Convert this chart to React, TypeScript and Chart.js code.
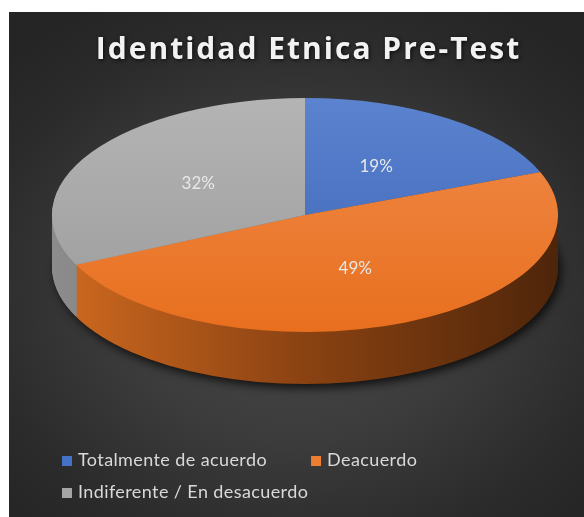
import React, { useEffect, useRef } from 'react';
import { Chart, registerables } from 'chart.js';

Chart.register(...registerables);

const TITLE = 'Identidad Etnica Pre-Test';
const categories = ['Totalmente de acuerdo', 'Deacuerdo', 'Indiferente / En desacuerdo'];
const values = [19, 49, 32];
const valueLabels = ['19%', '49%', '32%'];

const baseColors = ['#4472c4', '#ed7d31', '#a5a5a5'];
const topColors = ['#5b83cf', '#f08c4c', '#b4b4b4'];
const bottomColors = ['#3a63b6', '#e86f1e', '#9b9b9b'];
const sideLeft = ['#2f5597', '#d06a20', '#8c8c8c'];
const sideMid = ['#284a85', '#8a4212', '#6e6e6e'];
const sideRight = ['#1f3864', '#4e250a', '#555555'];

// projected ellipse (canvas px) for the 3-D look
const PIE = { cx: 296, cy: 203, rx: 253, ry: 117, depth: 52 };
const LEGEND = { left: 53, top: 448, rowGap: 32, itemGap: 44, maxRight: 560, box: 10, textGap: 6 };

const titleFx = {
  id: 'titleFx',
  beforeDraw(chart: any) {
    const ctx = chart.ctx;
    ctx.shadowColor = 'rgba(0,0,0,0.75)';
    ctx.shadowBlur = 4;
    ctx.shadowOffsetX = 1;
    ctx.shadowOffsetY = 1;
    (ctx as any).letterSpacing = '2px';
  },
};

const pie3d = {
  id: 'pie3d',
  beforeDatasetsDraw(chart: any) {
    const ctx: CanvasRenderingContext2D = chart.ctx;
    ctx.shadowColor = 'transparent';
    ctx.shadowBlur = 0;
    ctx.shadowOffsetX = 0;
    ctx.shadowOffsetY = 0;
    (ctx as any).letterSpacing = '0px';
    const meta = chart.getDatasetMeta(0);
    const arcs = meta.data;
    if (!arcs.length) return false;
    const { x: cx, y: cy, outerRadius: R } = arcs[0].getProps(['x', 'y', 'outerRadius'], true);
    const sx = PIE.rx / R;
    const sy = PIE.ry / R;
    const apply = (dy: number) => {
      ctx.translate(PIE.cx, PIE.cy + dy);
      ctx.scale(sx, sy);
      ctx.translate(-cx, -cy);
    };

    // shadow under the pie
    ctx.save();
    ctx.shadowColor = 'rgba(0,0,0,0.75)';
    ctx.shadowBlur = 10;
    ctx.shadowOffsetX = 3;
    ctx.shadowOffsetY = 4;
    apply(PIE.depth);
    ctx.beginPath();
    ctx.arc(cx, cy, R, 0, Math.PI * 2);
    ctx.fillStyle = '#3a1b06';
    ctx.fill();
    ctx.restore();

    // side walls
    for (let dy = PIE.depth; dy >= 1; dy--) {
      arcs.forEach((arc: any, i: number) => {
        const p = arc.getProps(['startAngle', 'endAngle'], true);
        ctx.save();
        apply(dy);
        const g = ctx.createLinearGradient(cx - R, 0, cx + R, 0);
        g.addColorStop(0, sideLeft[i]);
        g.addColorStop(0.5, sideMid[i]);
        g.addColorStop(1, sideRight[i]);
        ctx.beginPath();
        ctx.moveTo(cx, cy);
        ctx.arc(cx, cy, R, p.startAngle, p.endAngle);
        ctx.closePath();
        ctx.fillStyle = g;
        ctx.fill();
        ctx.restore();
      });
    }

    // top faces, drawn by the arc elements
    ctx.save();
    apply(0);
    arcs.forEach((arc: any) => arc.draw(ctx));
    ctx.restore();

    // value labels
    ctx.save();
    ctx.font = '17px Lato';
    ctx.fillStyle = '#e8e8e8';
    ctx.textAlign = 'center';
    ctx.textBaseline = 'middle';
    arcs.forEach((arc: any, i: number) => {
      const tp = arc.tooltipPosition(true);
      const px = PIE.cx + (tp.x - cx) * sx;
      const py = PIE.cy + (tp.y - cy) * sy;
      ctx.fillText(valueLabels[i], px, py);
    });
    ctx.restore();
    return false;
  },
};

const customLegend = {
  id: 'customLegend',
  afterDraw(chart: any) {
    const ctx: CanvasRenderingContext2D = chart.ctx;
    ctx.save();
    ctx.shadowColor = 'transparent';
    (ctx as any).letterSpacing = '0.4px';
    ctx.font = '18px Lato';
    ctx.textBaseline = 'middle';
    ctx.textAlign = 'left';
    let x = LEGEND.left;
    let y = LEGEND.top;
    const labels: string[] = chart.data.labels;
    labels.forEach((text, i) => {
      const w = LEGEND.box + LEGEND.textGap + ctx.measureText(text).width;
      if (i > 0 && x + w > LEGEND.maxRight) {
        x = LEGEND.left;
        y += LEGEND.rowGap;
      }
      ctx.fillStyle = baseColors[i];
      ctx.fillRect(x, y - 4, LEGEND.box, LEGEND.box);
      ctx.fillStyle = '#d9d9d9';
      ctx.fillText(text, x + LEGEND.box + LEGEND.textGap, y);
      x += w + LEGEND.itemGap;
    });
    ctx.restore();
  },
};

export default function App() {
  const ref = useRef<HTMLCanvasElement | null>(null);

  useEffect(() => {
    if (!ref.current) return;
    const chart = new Chart(ref.current, {
      type: 'pie',
      data: {
        labels: categories,
        datasets: [
          {
            data: values,
            borderWidth: 0,
            backgroundColor: (c: any) => {
              const i = c.dataIndex ?? 0;
              const area = c.chart.chartArea;
              if (!area) return baseColors[i];
              const R = Math.min(area.width, area.height) / 2;
              const mid = (area.top + area.bottom) / 2;
              const g = c.chart.ctx.createLinearGradient(0, mid - R, 0, mid + R);
              g.addColorStop(0, topColors[i]);
              g.addColorStop(1, bottomColors[i]);
              return g;
            },
          },
        ],
      },
      options: {
        animation: false,
        responsive: false,
        devicePixelRatio: 1,
        events: [],
        layout: { padding: { left: 24, right: 0, top: 0, bottom: 80 } },
        plugins: {
          legend: { display: false },
          tooltip: { enabled: false },
          title: {
            display: true,
            text: TITLE,
            color: '#f2f2f2',
            font: { family: 'Open Sans', size: 30, weight: 'bold' },
            padding: { top: 20, bottom: 10 },
          },
        },
      },
      plugins: [titleFx, pie3d, customLegend],
    });
    return () => chart.destroy();
  }, []);

  return (
    <div
      style={{
        position: 'fixed',
        left: 9,
        top: 12,
        width: 575,
        height: 505,
        background:
          'radial-gradient(ellipse 70% 65% at 50% 55%, #4a4a4a 0%, #3c3c3c 45%, #2b2b2b 80%, #252525 100%)',
      }}
    >
      <canvas ref={ref} width={575} height={505} style={{ display: 'block' }} />
    </div>
  );
}
